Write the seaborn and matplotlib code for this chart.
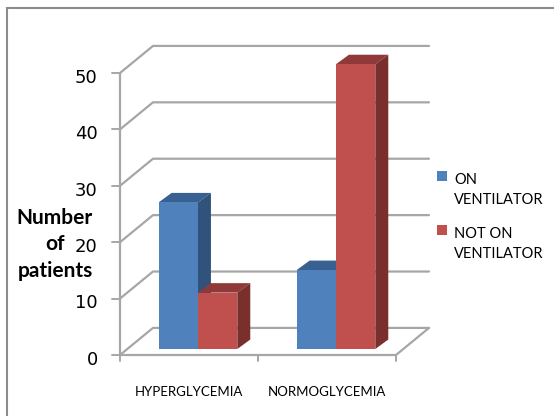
import pandas as pd
import seaborn as sns
from matplotlib import pyplot as plt
from matplotlib.patches import Polygon, Rectangle
from matplotlib.transforms import ScaledTranslation

groups = ['HYPERGLYCEMIA', 'NORMOGLYCEMIA']
on_ventilator = [26, 14]
not_on_ventilator = [10, 50.5]
series_names = ['ON\nVENTILATOR', 'NOT ON\nVENTILATOR']
y_ticks = [0, 10, 20, 30, 40, 50]

df = pd.DataFrame({'group': groups * 2,
                   'patients': on_ventilator + not_on_ventilator,
                   'series': [series_names[0]] * 2 + [series_names[1]] * 2})

GRID = '#a6a6a6'
FRONT = ['#4f81bd', '#c0504d']
TOP = ['#386090', '#8f3a38']
SIDE = ['#30527b', '#7a2f2d']

# fake depth, in data units
WALL_X, WALL_Y = 0.239, 4.8
SHIFT_X, SHIFT_Y = 0.065, 1.06
BAR_X, BAR_Y = 0.094, 1.68

sns.set_theme(style='white')
plt.rcParams['font.family'] = ['Lato', 'DejaVu Sans']

fig = plt.figure(figsize=(5.54, 4.16), dpi=100)
ax = fig.add_axes([120 / 554, 1 - 355 / 416, 276 / 554, 282 / 416])
sns.barplot(data=df, x='group', y='patients', hue='series', palette=FRONT,
            width=0.57, gap=0, saturation=1, legend=False, ax=ax, zorder=3,
            linewidth=0, edgecolor='none')
ax.set_xlim(-0.5, 1.5)
ax.set_ylim(0, 50)
sns.despine(ax=ax, left=True, bottom=True)

# back wall and floor
for v in y_ticks:
    ax.plot([-0.5, -0.5 + WALL_X, 1.5 + WALL_X], [v, v + WALL_Y, v + WALL_Y],
            color=GRID, lw=1.6, clip_on=False, zorder=1)
ax.plot([-0.5, 1.5, 1.5 + WALL_X], [0, 0, WALL_Y], color=GRID, lw=1.6,
        clip_on=False, zorder=1)
ax.plot([-0.5, -0.5], [0, 50], color=GRID, lw=1.6, clip_on=False, zorder=2)
for x in [-0.5, 0.5, 1.5]:
    ax.plot([x, x], [0, -1], color=GRID, lw=1.4, clip_on=False, zorder=2)
for v in y_ticks:
    ax.plot([-0.5, -0.558], [v, v], color=GRID, lw=1.4, clip_on=False, zorder=2)

# push bars back and add top and side faces
bars = [b for b in ax.patches if b.get_height() > 0]
order = sorted(bars, key=lambda b: b.get_x())
for i, b in enumerate(order):
    c = i % 2
    b.set_clip_on(False)
    b.set_x(b.get_x() + SHIFT_X)
    b.set_y(SHIFT_Y)
    x0, x1 = b.get_x(), b.get_x() + b.get_width()
    y1 = SHIFT_Y + b.get_height()
    ax.add_patch(Polygon([(x0, y1), (x1, y1), (x1 + BAR_X, y1 + BAR_Y), (x0 + BAR_X, y1 + BAR_Y)],
                         fc=TOP[c], ec='none', clip_on=False, zorder=2.5))
    ax.add_patch(Polygon([(x1, SHIFT_Y), (x1 + BAR_X, SHIFT_Y + BAR_Y), (x1 + BAR_X, y1 + BAR_Y), (x1, y1)],
                         fc=SIDE[c], ec='none', clip_on=False, zorder=2.5))

ax.set_xlabel('')
ax.set_ylabel('')
ax.set_yticks(y_ticks)
ax.set_xticks([0, 1])
ax.set_xticklabels(groups, fontsize=9.5, color='black')
ax.tick_params(axis='x', length=0, pad=22)
ax.tick_params(axis='y', length=0, pad=16)
label_drop = ScaledTranslation(0, -2 / 72, fig.dpi_scale_trans)
for t in ax.get_yticklabels():
    t.set_fontfamily('DejaVu Sans')
    t.set_fontsize(13)
    t.set_color('black')
    t.set_transform(t.get_transform() + label_drop)

for word, ypx in zip(['Number', 'of', 'patients'], [218, 244, 271]):
    fig.text(55 / 554, 1 - ypx / 416, word, ha='center', va='center',
             fontsize=15, fontweight='bold', color='black')

# legend
for i, name in enumerate(series_names):
    top = [171, 225][i]
    fig.add_artist(Rectangle((437 / 554, 1 - (top + 10) / 416), 10 / 554, 10 / 416,
                             transform=fig.transFigure, fc=FRONT[i], ec='none'))
    fig.text(454 / 554, 1 - (top + 2) / 416, name, ha='left', va='top', fontsize=10.5,
             color='black', linespacing=1.58)

# chart frame
fig.add_artist(Rectangle((7 / 554, -0.1), 1.1, 1 - 8 / 416 + 0.1, transform=fig.transFigure,
                         fc='none', ec='#8c8c8c', lw=1.5))

fig.savefig('out.png', dpi=100)
